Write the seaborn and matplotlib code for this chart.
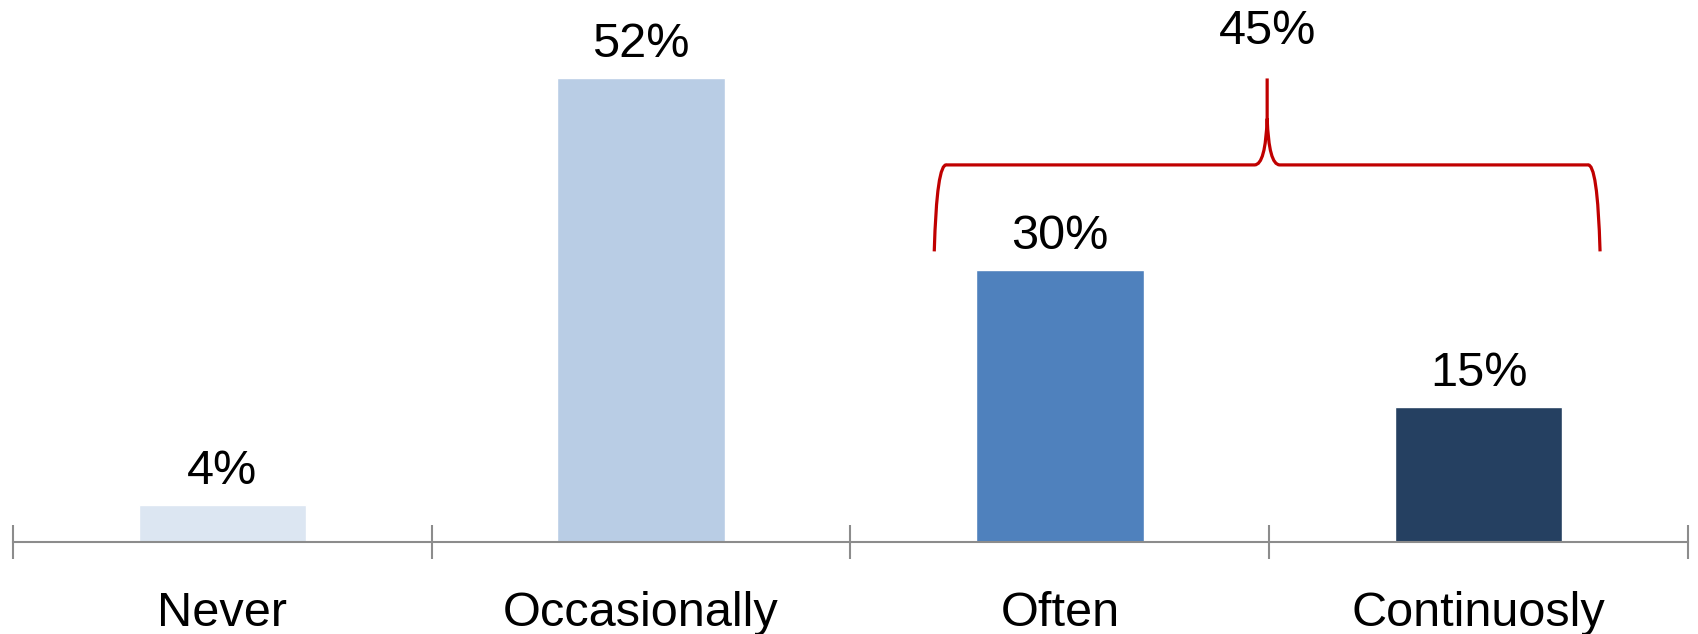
import numpy as np
import matplotlib.pyplot as plt
from matplotlib.path import Path
from matplotlib.patches import PathPatch
import pandas as pd
import seaborn as sns

categories = ['Never', 'Occasionally', 'Often', 'Continuosly']
values = [4.1, 52.0, 30.5, 15.1]   # bar heights as drawn
labels = ['4%', '52%', '30%', '15%']
colors = ['#DCE6F2', '#B9CDE5', '#4F81BD', '#254061']
group_label = '45%'

sns.set_style('white')
plt.rcParams['font.family'] = ['Liberation Sans', 'DejaVu Sans']
plt.rcParams['text.color'] = 'black'
plt.rcParams['xtick.color'] = 'black'

df = pd.DataFrame({'cat': categories, 'val': values})

fig = plt.figure(figsize=(16.99, 6.34), dpi=100)
ax = fig.add_axes([13 / 1699, 92 / 634, 1675 / 1699, 542 / 634])
sns.barplot(data=df, x='cat', y='val', hue='cat', palette=colors,
            width=0.4, legend=False, saturation=1, ax=ax)

for c, lab in zip(ax.containers, labels):
    ax.bar_label(c, labels=[lab], padding=8, fontsize=35, color='black')

ax.set_xlim(-0.5, 3.5)
ax.set_ylim(0, 60.8)
ax.set_xlabel('')
ax.set_ylabel('')
ax.set_yticks([])

# boundaries as major ticks, names as minor ticks
n = len(categories)
ax.set_xticks(np.arange(n + 1) - 0.5)
ax.set_xticklabels([])
ax.set_xticks(np.arange(n), minor=True)
ax.set_xticklabels(categories, minor=True, fontsize=35, color='black')
ax.tick_params(axis='x', which='major', bottom=True, direction='inout',
               length=24, width=1.5, color='#8C8C8C')
ax.tick_params(axis='x', which='minor', bottom=True, length=0, pad=35)

for s in ['top', 'left', 'right']:
    ax.spines[s].set_visible(False)
ax.spines['bottom'].set_color('#8C8C8C')
ax.spines['bottom'].set_linewidth(1.5)

# brace over Often + Continuosly
xl, xr, xm = 1.70, 3.29, 2.495
yb, yh, yt = 32.6, 42.3, 52.0
dx, dy = 0.03, 5.2
verts = [
    (xl, yb), (xl + 0.006, yh + 0.3), (xl + dx, yh),
    (xm - dx, yh),
    (xm - 0.004, yh), (xm, yh + dy),
    (xm, yt),
    (xm, yh + dy), (xm + 0.004, yh), (xm + dx, yh),
    (xr - dx, yh),
    (xr - 0.006, yh + 0.3), (xr, yb),
]
codes = [Path.MOVETO, Path.CURVE3, Path.CURVE3,
         Path.LINETO,
         Path.CURVE3, Path.CURVE3,
         Path.LINETO,
         Path.MOVETO, Path.CURVE3, Path.CURVE3,
         Path.LINETO,
         Path.CURVE3, Path.CURVE3]
ax.add_patch(PathPatch(Path(verts, codes), fill=False, edgecolor='#C00000',
                       linewidth=2.3, clip_on=False))
ax.text(xm, 55.9, group_label, ha='center', va='baseline', fontsize=35)

fig.savefig('out.png', dpi=100)
